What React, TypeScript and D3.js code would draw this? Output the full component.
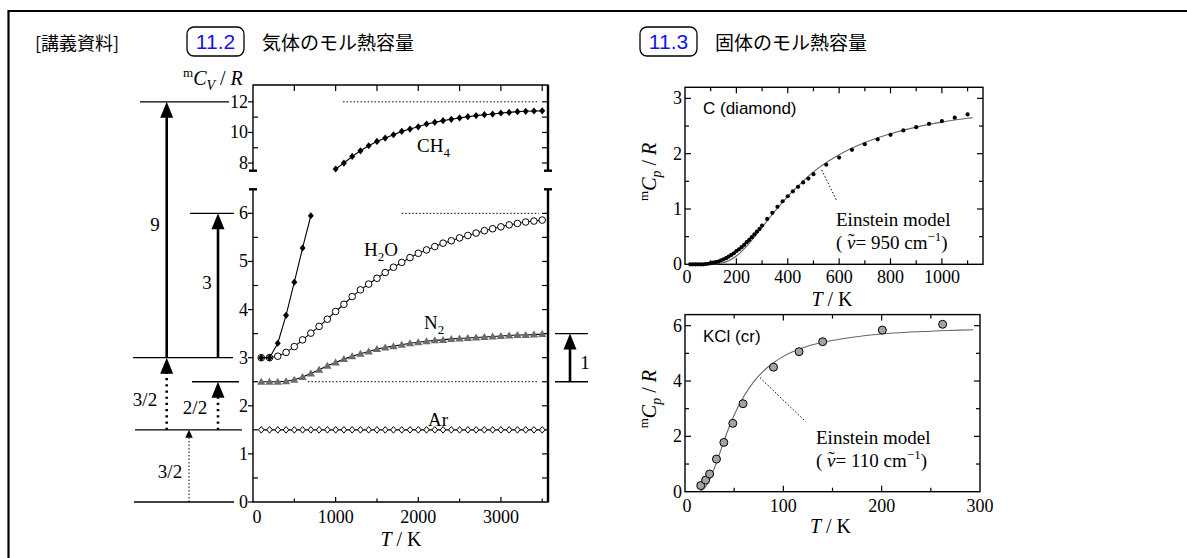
import * as d3 from "d3";
import React, { useRef, useEffect } from "react";

const W = 1187;
const H = 558;
const SERIF = "'Liberation Serif', 'Times New Roman', serif";
const SANS = "'Liberation Sans', Arial, sans-serif";
const CJK = "'Noto Sans CJK JP', sans-serif";

// ---- 11.2 gases: mCV/R against T ----
const gasT = [100, 200, 300, 400, 500, 600, 700, 800, 900, 1000, 1100, 1200, 1300, 1400, 1500, 1600, 1700, 1800,
  1900, 2000, 2100, 2200, 2300, 2400, 2500, 2600, 2700, 2800, 2900, 3000, 3100, 3200, 3300, 3400, 3500];
const arCv = [1.5, 1.5, 1.5, 1.5, 1.5, 1.5, 1.5, 1.5, 1.5, 1.5, 1.5, 1.5, 1.5, 1.5, 1.5, 1.5, 1.5, 1.5,
  1.5, 1.5, 1.5, 1.5, 1.5, 1.5, 1.5, 1.5, 1.5, 1.5, 1.5, 1.5, 1.5, 1.5, 1.5, 1.5, 1.5];
const n2Cv = [2.5, 2.5, 2.5, 2.51, 2.54, 2.6, 2.67, 2.75, 2.83, 2.9, 2.97, 3.03, 3.08, 3.13, 3.18, 3.21, 3.24, 3.27,
  3.3, 3.32, 3.34, 3.36, 3.37, 3.39, 3.4, 3.41, 3.42, 3.43, 3.44, 3.45, 3.46, 3.47, 3.47, 3.48, 3.49];
const h2oCv = [3.0, 3.0, 3.03, 3.11, 3.23, 3.37, 3.51, 3.65, 3.8, 3.96, 4.11, 4.27, 4.41, 4.53, 4.65, 4.77, 4.88, 4.98,
  5.08, 5.17, 5.24, 5.31, 5.38, 5.43, 5.49, 5.54, 5.59, 5.64, 5.68, 5.72, 5.76, 5.79, 5.82, 5.84, 5.86];
const ch4LowT = [100, 200, 300, 400, 500, 600, 700];
const ch4LowCv = [3.0, 3.0, 3.3, 3.88, 4.57, 5.28, 5.95];
const ch4HighT = [1000, 1100, 1200, 1300, 1400, 1500, 1600, 1700, 1800, 1900, 2000, 2100, 2200, 2300, 2400, 2500,
  2600, 2700, 2800, 2900, 3000, 3100, 3200, 3300, 3400, 3500];
const ch4HighCv = [7.61, 8.0, 8.43, 8.8, 9.13, 9.41, 9.63, 9.85, 10.07, 10.22, 10.37, 10.55, 10.66, 10.77, 10.86, 10.95,
  11.03, 11.1, 11.16, 11.2, 11.27, 11.31, 11.36, 11.38, 11.4, 11.41];
const gasYLabels = [0, 1, 2, 3, 4, 5, 6, 8, 10, 12];
const gasXLabels = [0, 1000, 2000, 3000];
// classical limits (dotted) and where they start
const limitCv = [12, 6, 2.5];
const limitFrom = [1090, 1800, 665];

// ---- 11.3 solids: mCp/R against T ----
const diamondT = [20, 30, 40, 50, 60, 70, 80, 90, 100, 110, 120, 130, 140, 150, 160, 170, 180, 190, 200, 210, 220, 230,
  240, 250, 260, 270, 280, 290, 300, 320, 340, 360, 380, 400, 420, 440, 460, 480, 500, 550, 600, 650, 700, 750, 800,
  850, 900, 950, 1000, 1050, 1100];
const diamondCp = [0, 0, 0, 0, 0, 0, 0.005, 0.01, 0.02, 0.03, 0.04, 0.05, 0.07, 0.09, 0.11, 0.14, 0.17, 0.2, 0.24, 0.27,
  0.31, 0.35, 0.4, 0.44, 0.49, 0.54, 0.59, 0.64, 0.7, 0.82, 0.93, 1.04, 1.14, 1.23, 1.32, 1.4, 1.48, 1.55, 1.63, 1.8,
  1.93, 2.07, 2.17, 2.26, 2.34, 2.42, 2.48, 2.54, 2.59, 2.65, 2.71];
const diamondEinT = [100, 150, 200, 250, 300, 350, 400, 450, 500, 600, 700, 800, 900, 1000, 1100, 1120];
const diamondEinCp = [0, 0.03, 0.15, 0.38, 0.67, 0.96, 1.23, 1.46, 1.67, 1.98, 2.2, 2.36, 2.48, 2.57, 2.64, 2.65];
const kclT = [16, 21, 25, 32, 39.5, 48.6, 59, 90, 116, 140, 200.7, 262];
const kclCp = [0.22, 0.42, 0.64, 1.18, 1.78, 2.47, 3.18, 4.5, 5.06, 5.42, 5.84, 6.05];
const kclEinT = [15, 20, 25, 30, 35, 40, 50, 60, 70, 80, 90, 100, 120, 140, 170, 200, 250, 293];
const kclEinCp = [0.02, 0.14, 0.43, 0.86, 1.36, 1.87, 2.77, 3.46, 3.98, 4.37, 4.66, 4.89, 5.2, 5.4, 5.58, 5.7, 5.8, 5.85];

function App() {
  const ref = useRef(null);

  useEffect(() => {
    draw();
  }, []);

  const txt = (g, x, y, s, o: any = {}) =>
    g.append("text")
      .attr("x", x)
      .attr("y", y)
      .attr("font-family", o.font || SERIF)
      .attr("font-size", o.size || 18)
      .attr("text-anchor", o.anchor || "start")
      .attr("fill", o.fill || "#000")
      .text(s);

  const arrow = (g, x, yFrom, yTo, w, dash, hw, hh) => {
    g.append("line")
      .attr("x1", x).attr("x2", x)
      .attr("y1", yFrom).attr("y2", yTo + hh - 1)
      .attr("stroke", "#000").attr("stroke-width", w)
      .attr("stroke-dasharray", dash);
    g.append("path")
      .attr("d", `M${x},${yTo}L${x - hw / 2},${yTo + hh}L${x + hw / 2},${yTo + hh}Z`)
      .attr("fill", "#000");
  };

  const cpLabel = (g, cx, cy) => {
    const t = g.append("text")
      .attr("transform", `translate(${cx},${cy}) rotate(-90)`)
      .attr("font-family", SERIF).attr("font-size", 20).attr("text-anchor", "middle");
    t.append("tspan").attr("font-size", 13).attr("dy", -8).text("m");
    t.append("tspan").attr("font-style", "italic").attr("dy", 8).text("C");
    t.append("tspan").attr("font-style", "italic").attr("font-size", 14).attr("dy", 5).text("p");
    t.append("tspan").attr("dy", -5).text(" / ");
    t.append("tspan").attr("font-style", "italic").text("R");
  };

  const tkLabel = (g, cx, y) => {
    const t = g.append("text").attr("x", cx).attr("y", y)
      .attr("font-family", SERIF).attr("font-size", 20).attr("text-anchor", "middle");
    t.append("tspan").attr("font-style", "italic").text("T");
    t.append("tspan").text(" / K");
  };

  const einstein = (g, x, y, nu) => {
    txt(g, x, y, "Einstein model", { size: 19 });
    const t = g.append("text").attr("x", x).attr("y", y + 23)
      .attr("font-family", SERIF).attr("font-size", 19);
    t.append("tspan").text("( ");
    t.append("tspan").attr("font-style", "italic").text("\u03BD");
    // tilde over nu
    t.append("tspan").attr("dx", -7.6).attr("dy", -1).attr("font-size", 20).text("\u02DC");
    t.append("tspan").attr("dx", 1).attr("dy", 1).text(`= ${nu} cm`);
    t.append("tspan").attr("font-size", 13).attr("dy", -8).text("\u22121");
    t.append("tspan").attr("dy", 8).text(")");
  };

  const draw = () => {
    const svg = d3.select(ref.current);
    svg.selectAll("*").remove();

    // page frame
    svg.append("path").attr("d", `M8.5,${H}V11H${W}`)
      .attr("fill", "none").attr("stroke", "#000").attr("stroke-width", 2.2);

    // header
    const hd = svg.append("g");
    txt(hd, 35, 50, "[講義資料]", { font: CJK, size: 18 });
    [["11.2", 187, "気体のモル熱容量"], ["11.3", 640, "固体のモル熱容量"]].forEach(([n, x, s]: any) => {
      hd.append("rect").attr("x", x).attr("y", 27).attr("width", 57).attr("height", 29).attr("rx", 7)
        .attr("fill", "#fff").attr("stroke", "#000").attr("stroke-width", 1.3);
      txt(hd, x + 28.5, 49, n, { font: SANS, size: 21, anchor: "middle", fill: "#1414e6" });
      txt(hd, x + 75, 50, s, { font: CJK, size: 19 });
    });

    // ===== gas chart =====
    const x = d3.scaleLinear().domain([0, 3570]).range([253, 548]);
    const yLo = d3.scaleLinear().domain([0, 6.5]).range([502, 189.3]);
    const yHi = d3.scaleLinear().domain([7.5, 13.1]).range([170.7, 85]);
    const yv = (v) => (v < 7 ? yLo(v) : yHi(v));
    const gc = svg.append("g");
    const [x0, x1] = x.range();

    // axes frame
    const ax = gc.append("g").attr("stroke", "#000").attr("fill", "none");
    ax.append("path").attr("d", `M${x0},${yLo(6.5)}V${yLo(0)}H${x1}V${yLo(6.5)}`).attr("stroke-width", 1.4);
    ax.append("path").attr("d", `M${x0},${yHi(7.5)}V${yHi(13.1)}H${x1}V${yHi(7.5)}`).attr("stroke-width", 1.4);
    ax.append("path").attr("d", `M${x1},${yLo(6.5)}V${yLo(0)}M${x1},${yHi(7.5)}V${yHi(13.1)}`).attr("stroke-width", 2.4);
    [yLo(6.5), yHi(7.5)].forEach((yy) => {
      [x0, x1].forEach((xx) => {
        ax.append("line").attr("x1", xx - 4).attr("x2", xx + 4).attr("y1", yy).attr("y2", yy).attr("stroke-width", 2.4);
      });
    });
    // y ticks
    const loTicks = d3.range(0, 6.01, 0.5);
    const hiTicks = d3.range(8, 12.01, 1);
    loTicks.concat(hiTicks).forEach((t) => {
      const yy = yv(t);
      const major = gasYLabels.includes(t);
      if (major) ax.append("line").attr("x1", x0 - 5).attr("x2", x0).attr("y1", yy).attr("y2", yy).attr("stroke-width", 1.2);
      else ax.append("line").attr("x1", x0).attr("x2", x0 + 5).attr("y1", yy).attr("y2", yy).attr("stroke-width", 1.2);
      if (t > 0) ax.append("line").attr("x1", x1 - 6).attr("x2", x1).attr("y1", yy).attr("y2", yy).attr("stroke-width", 1.2);
    });
    // x ticks
    d3.range(500, 3501, 500).forEach((t) => {
      const major = t % 1000 === 0;
      ax.append("line").attr("x1", x(t)).attr("x2", x(t)).attr("y1", yLo(0)).attr("y2", yLo(0) - (major ? 5 : 3.5)).attr("stroke-width", 1.2);
      ax.append("line").attr("x1", x(t)).attr("x2", x(t)).attr("y1", yHi(13.1)).attr("y2", yHi(13.1) + 6).attr("stroke-width", 1.2);
    });
    gasYLabels.forEach((t) => txt(gc, 248, yv(t) + 6, String(t), { anchor: "end" }));
    gasXLabels.forEach((t) => txt(gc, x(t) + (t === 0 ? 4 : 0), 523, String(t), { anchor: "middle" }));
    tkLabel(gc, 401, 546);
    const yl = gc.append("text").attr("x", 183).attr("y", 85).attr("font-family", SERIF).attr("font-size", 20);
    yl.append("tspan").attr("font-size", 13).attr("dy", -8).text("m");
    yl.append("tspan").attr("font-style", "italic").attr("dy", 8).text("C");
    yl.append("tspan").attr("font-style", "italic").attr("font-size", 14).attr("dy", 5).text("V");
    yl.append("tspan").attr("dy", -5).text(" / ");
    yl.append("tspan").attr("font-style", "italic").text("R");

    // classical limits
    limitCv.forEach((v, i) => {
      gc.append("line").attr("x1", x(limitFrom[i])).attr("x2", x(3460)).attr("y1", yv(v)).attr("y2", yv(v))
        .attr("stroke", "#000").attr("stroke-width", 1).attr("stroke-dasharray", "1.5,2");
    });

    const line = d3.line().x((d) => x(d[0])).y((d) => yv(d[1]));
    const series = (T, V, mark) => {
      const pts = T.map((t, i) => [t, V[i]]);
      gc.append("path").attr("d", line(pts)).attr("fill", "none").attr("stroke", "#000").attr("stroke-width", 1.1);
      const g = gc.append("g");
      pts.forEach((p) => mark(g, x(p[0]), yv(p[1])));
    };
    const diamondOpen = (g, cx, cy) => g.append("path").attr("d", `M${cx},${cy - 3.3}L${cx + 2.8},${cy}L${cx},${cy + 3.3}L${cx - 2.8},${cy}Z`)
      .attr("fill", "#fff").attr("stroke", "#000").attr("stroke-width", 1);
    const diamondFill = (g, cx, cy) => g.append("path").attr("d", `M${cx},${cy - 3.6}L${cx + 3},${cy}L${cx},${cy + 3.6}L${cx - 3},${cy}Z`)
      .attr("fill", "#000");
    const circleOpen = (g, cx, cy) => g.append("circle").attr("cx", cx).attr("cy", cy).attr("r", 3.3)
      .attr("fill", "#fff").attr("stroke", "#000").attr("stroke-width", 1);
    const triangle = (g, cx, cy) => g.append("path").attr("d", `M${cx},${cy - 4}L${cx + 4.2},${cy + 3}L${cx - 4.2},${cy + 3}Z`)
      .attr("fill", "#6b6b6b");

    series(gasT, arCv, diamondOpen);
    series(gasT, n2Cv, triangle);
    series(gasT, h2oCv, circleOpen);
    series(ch4LowT, ch4LowCv, diamondFill);
    series(ch4HighT, ch4HighCv, diamondFill);

    const chem = (cx, cy, a, sub, b) => {
      const t = gc.append("text").attr("x", cx).attr("y", cy).attr("font-family", SERIF).attr("font-size", 19);
      t.append("tspan").text(a);
      if (sub) {
        t.append("tspan").attr("font-size", 13).attr("dy", 5).text(sub);
        t.append("tspan").attr("dy", -5).text(b);
      }
    };
    chem(417, 152, "CH", "4", "");
    chem(364, 256, "H", "2", "O");
    chem(424, 329, "N", "2", "");
    chem(428, 426, "Ar", "", "");

    // energy level diagram
    const lv = gc.append("g").attr("stroke", "#000").attr("stroke-width", 1.3);
    [[12, 140, 229], [6, 190, 234], [3, 133, 233], [2.5, 192, 239], [1.5, 135, 242], [0, 134, 234], [3.5, 555, 588], [2.5, 555, 588]]
      .forEach(([v, a, b]) => lv.append("line").attr("x1", a).attr("x2", b).attr("y1", yv(v)).attr("y2", yv(v)));
    const ar = gc.append("g");
    arrow(ar, 166.7, yv(3), yv(12), 2.6, null, 13, 16);
    arrow(ar, 218, yv(3), yv(6), 2.6, null, 13, 16);
    arrow(ar, 166.7, yv(1.5), yv(3), 2.6, "2.2,4", 13, 16);
    arrow(ar, 218, yv(1.5), yv(2.5), 2.6, "2.2,4", 13, 16);
    arrow(ar, 189, yv(0), yv(1.5), 1, "1.5,2", 7.5, 8);
    arrow(ar, 570, yv(2.5), yv(3.5), 2.6, null, 13, 16);
    txt(gc, 155, 231, "9", { size: 19, anchor: "middle" });
    txt(gc, 207, 289, "3", { size: 19, anchor: "middle" });
    txt(gc, 145, 406, "3/2", { size: 19, anchor: "middle" });
    txt(gc, 195, 414, "2/2", { size: 19, anchor: "middle" });
    txt(gc, 170, 478, "3/2", { size: 19, anchor: "middle" });
    txt(gc, 585, 369, "1", { size: 19, anchor: "middle" });

    // ===== solid charts =====
    const panel = (xd, xr, yd, yr, xMaj, xMin, yMaj, yMin, tickY, titleY) => {
      const sx = d3.scaleLinear().domain(xd).range(xr);
      const sy = d3.scaleLinear().domain(yd).range(yr);
      const g = svg.append("g");
      const a = g.append("g").attr("stroke", "#000").attr("stroke-width", 1.2);
      g.append("rect").attr("x", xr[0]).attr("y", yr[1]).attr("width", xr[1] - xr[0]).attr("height", yr[0] - yr[1])
        .attr("fill", "none").attr("stroke", "#000").attr("stroke-width", 1.4);
      xMaj.concat(xMin).forEach((t) => {
        const L = xMaj.includes(t) ? 6 : 4;
        if (sx(t) <= xr[0] || sx(t) >= xr[1]) return;
        a.append("line").attr("x1", sx(t)).attr("x2", sx(t)).attr("y1", yr[0]).attr("y2", yr[0] - L);
        a.append("line").attr("x1", sx(t)).attr("x2", sx(t)).attr("y1", yr[1]).attr("y2", yr[1] + L);
      });
      yMaj.concat(yMin).forEach((t) => {
        const L = yMaj.includes(t) ? 6 : 4;
        if (sy(t) >= yr[0] || sy(t) <= yr[1]) return;
        a.append("line").attr("x1", xr[0]).attr("x2", xr[0] + L).attr("y1", sy(t)).attr("y2", sy(t));
        a.append("line").attr("x1", xr[1]).attr("x2", xr[1] - L).attr("y1", sy(t)).attr("y2", sy(t));
      });
      xMaj.forEach((t) => txt(g, sx(t) + (t === 0 ? 2 : 0), tickY, String(t), { anchor: "middle" }));
      yMaj.forEach((t) => txt(g, 682, sy(t) + 6, String(t), { anchor: "end" }));
      tkLabel(g, (xr[0] + xr[1]) / 2 - 2, titleY);
      cpLabel(g, 656, (yr[0] + yr[1]) / 2 - 4);
      return { g, sx, sy };
    };

    // diamond
    const p1 = panel([0, 1160], [685, 983], [0, 3.2], [264.3, 87.3],
      [0, 200, 400, 600, 800, 1000], [100, 300, 500, 700, 900, 1100],
      [0, 1, 2, 3], [0.5, 1.5, 2.5], 283, 306);
    const l1 = d3.line().curve(d3.curveMonotoneX).x((d) => p1.sx(d[0])).y((d) => p1.sy(d[1]));
    p1.g.append("path").attr("d", l1(diamondEinT.map((t, i) => [t, diamondEinCp[i]])))
      .attr("fill", "none").attr("stroke", "#666").attr("stroke-width", 1.1);
    p1.g.append("g").selectAll("circle").data(diamondT).join("circle")
      .attr("cx", (d) => p1.sx(d)).attr("cy", (d, i) => p1.sy(diamondCp[i])).attr("r", 2.1).attr("fill", "#000");
    txt(p1.g, 703, 114, "C (diamond)", { font: SANS, size: 17 });
    p1.g.append("line").attr("x1", 821.7).attr("y1", 170).attr("x2", 836.7).attr("y2", 200.7)
      .attr("stroke", "#000").attr("stroke-dasharray", "1.5,2");
    einstein(p1.g, 836, 226, 950);

    // KCl
    const p2 = panel([0, 300], [685, 980], [0, 6.4], [491.7, 314.6],
      [0, 100, 200, 300], [50, 150, 250],
      [0, 2, 4, 6], [1, 3, 5], 512, 533);
    const l2 = d3.line().curve(d3.curveMonotoneX).x((d) => p2.sx(d[0])).y((d) => p2.sy(d[1]));
    p2.g.append("path").attr("d", l2(kclEinT.map((t, i) => [t, kclEinCp[i]])))
      .attr("fill", "none").attr("stroke", "#666").attr("stroke-width", 1.1);
    p2.g.append("g").selectAll("circle").data(kclT).join("circle")
      .attr("cx", (d) => p2.sx(d)).attr("cy", (d, i) => p2.sy(kclCp[i])).attr("r", 4)
      .attr("fill", "#a3a3a3").attr("stroke", "#000").attr("stroke-width", 1);
    txt(p2.g, 703, 342, "KCl (cr)", { font: SANS, size: 17 });
    p2.g.append("line").attr("x1", 760).attr("y1", 377.7).attr("x2", 805.7).attr("y2", 421.7)
      .attr("stroke", "#000").attr("stroke-dasharray", "1.5,2");
    einstein(p2.g, 816, 444, 110);
  };

  return (
    <svg ref={ref} width={W} height={H} style={{ position: "absolute", left: 0, top: 0, background: "#fff" }}></svg>
  );
}

export default App;
